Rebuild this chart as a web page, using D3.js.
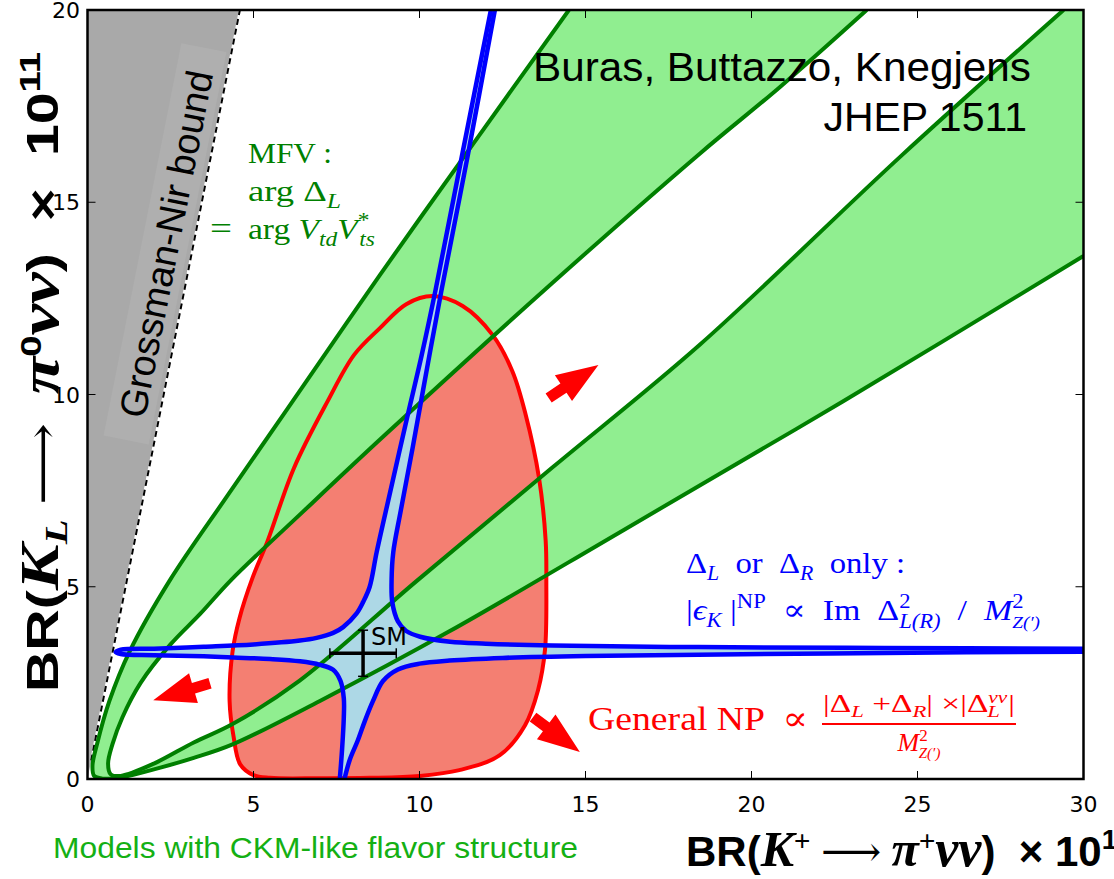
<!DOCTYPE html>
<html><head><meta charset="utf-8">
<script src="https://cdn.jsdelivr.net/npm/d3@7"></script>
<style>
body{margin:0;background:#fff}
svg{display:block}
text{white-space:pre}
</style>
</head><body>
<svg id="chart" width="1114" height="879"></svg>
<script>
// ---- axes ----
const xDomain = [0, 30];
const yDomain = [0, 20];
const xTicks = [0, 5, 10, 15, 20, 25, 30];
const yTicks = [0, 5, 10, 15, 20];

// ---- Grossman–Nir bound: BR(K_L) <= 4.36 BR(K+) ----
const gnBound = [[0, 0], [4.59, 20]];
const gnDash = [[0.11, 0.48], [4.59, 20]];

// ---- MFV band: outer boundary (steep arm -> origin -> shallow arm) ----
const mfvOuter = [
  [14.5, 20], [11.6, 16.5], [8.8, 13.1], [6.0, 9.6], [4.2, 7.35], [2.46, 5.14],
  [1.27, 3.32], [0.66, 2.03], [0.3, 0.95], [0.15, 0.35], [0.2, 0.08], [0.45, 0.01],
  [1.0, 0.04], [2.0, 0.25], [3.2, 0.55], [4.37, 0.9], [7.0, 2.03], [10.9, 3.84],
  [16, 6.4], [22.75, 9.82], [30, 13.6]
];
// ---- MFV band: inner boundary ----
const mfvInner = [
  [23.47, 20], [20.86, 18.0], [18.45, 16.27], [14.0, 12.9], [8.9, 8.9], [6.5, 6.96],
  [4.33, 5.18], [3.4, 4.3], [2.5, 3.5], [1.6, 2.5], [1.05, 1.6], [0.75, 0.9],
  [0.62, 0.4], [0.7, 0.12], [1.0, 0.08], [2.0, 0.4], [3.2, 0.95], [4.37, 1.43],
  [6.38, 2.55], [9.9, 5.14], [14.0, 8.1], [18.45, 11.3], [24.5, 16.2], [29.4, 20]
];

// ---- General NP region (closed) ----
const npRegion = [
  [10.4, 12.56], [11.3, 12.3], [12.2, 11.55], [12.8, 10.6], [13.2, 9.47], [13.6, 7.83],
  [13.8, 6.2], [13.82, 5.17], [13.78, 3.36], [13.57, 2.31], [13.18, 1.4], [12.42, 0.62],
  [11.2, 0.23], [10.0, 0.08], [8.5, 0.03], [7.0, 0.02], [5.5, 0.03], [5.0, 0.1],
  [4.6, 0.38], [4.4, 1.1], [4.28, 2.03], [4.37, 3.32], [4.58, 4.19], [4.97, 5.23],
  [5.42, 6.18], [6.22, 8.09], [7.23, 9.82], [8.03, 11.03], [8.8, 11.72], [9.6, 12.35]
];

// ---- Delta_L or Delta_R only (eps_K constrained) region: four arms ----
const epsUpperLeft = [
  [12.15, 20], [11.3, 16.3], [10.48, 12.7], [10.06, 11.0], [9.6, 9.3], [9.1, 7.4],
  [8.71, 5.9], [8.5, 5.0], [8.3, 4.6], [8.1, 4.3], [7.7, 3.95], [7.4, 3.8],
  [6.9, 3.67], [6.4, 3.6], [5.0, 3.5], [3.5, 3.44], [2.0, 3.39], [1.0, 3.36], [0.85, 3.3]
];
const epsLowerLeft = [
  [0.85, 3.3], [1.0, 3.25], [2.0, 3.22], [3.5, 3.19], [4.4, 3.16], [5.5, 3.12],
  [6.4, 3.06], [7.0, 2.97], [7.4, 2.84], [7.62, 2.55], [7.72, 2.1], [7.72, 1.6],
  [7.67, 0.8], [7.6, 0]
];
const epsLowerRight = [
  [7.74, 0], [7.9, 0.5], [8.14, 1.0], [8.35, 1.5], [8.6, 2.03], [8.9, 2.55],
  [9.35, 2.85], [10.0, 3.0], [10.9, 3.08], [12.5, 3.15], [15, 3.2], [18.4, 3.23],
  [24, 3.28], [30, 3.31]
];
const epsUpperRight = [
  [30, 3.39], [24, 3.41], [18.4, 3.43], [14, 3.47], [12, 3.52], [10.92, 3.57],
  [10.02, 3.7], [9.6, 3.85], [9.35, 4.1], [9.18, 4.6], [9.16, 5.2], [9.21, 5.9],
  [9.44, 7.0], [9.79, 8.6], [10.21, 10.6], [10.66, 12.7], [11.45, 16.2], [12.27, 20]
];

// ---- Standard Model point with uncertainties ----
const smPoint = [8.3, 3.27];
const smErr = [1.0, 0.6];

// ---- direction arrows (tail -> tip) ----
const arrowTails = [[13.89, 9.91], [3.69, 2.49], [13.42, 1.61]];
const arrowTips = [[15.39, 10.77], [1.98, 2.05], [14.83, 0.70]];

// ---------------------------------------------------------------
const svg = d3.select("#chart");
const x = d3.scaleLinear().domain(xDomain).range([87.5, 1083.5]);
const y = d3.scaleLinear().domain(yDomain).range([779, 10]);
const X0 = x(xDomain[0]), X1 = x(xDomain[1]), Y0 = y(yDomain[0]), Y1 = y(yDomain[1]);

const SERIF = "'Liberation Serif','DejaVu Serif',serif";
const SANS = "'Liberation Sans',Arial,sans-serif";
const DSANS = "'DejaVu Sans',sans-serif";

svg.append("defs").append("clipPath").attr("id", "plotclip")
  .append("rect").attr("x", X0).attr("y", Y1).attr("width", X1 - X0).attr("height", Y0 - Y1);

const plot = svg.append("g").attr("clip-path", "url(#plotclip)");

const open = d3.line().x(d => x(d[0])).y(d => y(d[1])).curve(d3.curveCatmullRom.alpha(0.5));
const closed = d3.line().x(d => x(d[0])).y(d => y(d[1])).curve(d3.curveCatmullRomClosed.alpha(0.5));
const straight = d3.line().x(d => x(d[0])).y(d => y(d[1]));
const cont = pts => open(pts).replace(/^M/, "L");

// Grossman–Nir excluded region
plot.append("path")
  .attr("d", straight([gnBound[0], gnBound[1], [0, yDomain[1]], [0, 0]]) + "Z")
  .attr("fill", "#a9a9a9");

// label with its background patch, aligned to the bound
{
  const p0 = [x(gnBound[0][0]), y(gnBound[0][1])], p1 = [x(gnBound[1][0]), y(gnBound[1][1])];
  const ang = Math.atan2(p1[1] - p0[1], p1[0] - p0[0]) * 180 / Math.PI;
  const g = plot.append("g").attr("transform", `translate(166,244) rotate(${ang})`);
  g.append("rect").attr("x", -200).attr("y", -24).attr("width", 400).attr("height", 46)
    .attr("fill", "#afafaf");
  g.append("text").attr("text-anchor", "middle").attr("dy", "0.35em")
    .attr("font-family", SANS).attr("font-size", 38).attr("fill", "#000")
    .text("Grossman-Nir bound");
}

// General NP region fill
plot.append("path").attr("d", closed(npRegion)).attr("fill", "#f47f72");

// MFV band fill (between outer and inner boundaries)
const outerD = open(mfvOuter) + `L${X1},${Y1}Z`;
const innerD = open(mfvInner) + "Z";
plot.append("path").attr("d", outerD + innerD).attr("fill", "#90ee90").attr("fill-rule", "evenodd");

// eps_K region fill
const epsD = open(epsUpperLeft.concat(epsLowerLeft.slice(1))) + cont(epsLowerRight) + cont(epsUpperRight) + "Z";
plot.append("path").attr("d", epsD).attr("fill", "#add8e6");

// Grossman–Nir bound line
plot.append("path").attr("d", straight(gnDash)).attr("stroke", "#fff").attr("stroke-width", 2).attr("fill", "none");
plot.append("path").attr("d", straight(gnDash)).attr("stroke", "#000").attr("stroke-width", 2)
  .attr("stroke-dasharray", "6,4").attr("fill", "none");

// outlines
plot.append("path").attr("d", closed(npRegion)).attr("fill", "none").attr("stroke", "#ff0000").attr("stroke-width", 4);
[mfvOuter, mfvInner].forEach(c => plot.append("path").attr("d", open(c)).attr("fill", "none")
  .attr("stroke", "#007f00").attr("stroke-width", 4));
[epsUpperLeft.concat(epsLowerLeft.slice(1)), epsLowerRight, epsUpperRight].forEach(c =>
  plot.append("path").attr("d", open(c)).attr("fill", "none").attr("stroke", "#0000ff")
    .attr("stroke-width", 4.5).attr("stroke-linejoin", "round"));

// SM point with error bars
{
  const cx = x(smPoint[0]), cy = y(smPoint[1]);
  const xl = x(smPoint[0] - smErr[0]), xr = x(smPoint[0] + smErr[0]);
  const yt = y(smPoint[1] + smErr[1]), yb = y(smPoint[1] - smErr[1]);
  const g = plot.append("g").attr("stroke", "#000");
  g.append("line").attr("x1", xl).attr("x2", xr).attr("y1", cy).attr("y2", cy).attr("stroke-width", 3.5);
  g.append("line").attr("x1", cx).attr("x2", cx).attr("y1", yt).attr("y2", yb).attr("stroke-width", 3.5);
  g.append("line").attr("x1", xl).attr("x2", xl).attr("y1", cy - 5).attr("y2", cy + 5).attr("stroke-width", 1.5);
  g.append("line").attr("x1", xr).attr("x2", xr).attr("y1", cy - 5).attr("y2", cy + 5).attr("stroke-width", 1.5);
  g.append("line").attr("x1", cx - 5).attr("x2", cx + 5).attr("y1", yt).attr("y2", yt).attr("stroke-width", 1.5);
  g.append("line").attr("x1", cx - 5).attr("x2", cx + 5).attr("y1", yb).attr("y2", yb).attr("stroke-width", 1.5);
  plot.append("text").attr("x", cx + 8).attr("y", cy - 8).attr("font-family", DSANS)
    .attr("font-size", 24).attr("fill", "#000").text("SM");
}

// arrows
arrowTails.forEach((t, i) => {
  const a = [x(t[0]), y(t[1])], b = [x(arrowTips[i][0]), y(arrowTips[i][1])];
  const L = Math.hypot(b[0] - a[0], b[1] - a[1]);
  const u = [(b[0] - a[0]) / L, (b[1] - a[1]) / L], n = [-u[1], u[0]];
  const hl = 42, hw = 31, sw = 11;
  const base = [b[0] - u[0] * hl, b[1] - u[1] * hl];
  const P = (p, k) => [p[0] + n[0] * k, p[1] + n[1] * k];
  const pts = [P(a, sw / 2), P(base, sw / 2), P(base, hw / 2), b, P(base, -hw / 2), P(base, -sw / 2), P(a, -sw / 2)];
  plot.append("polygon").attr("points", pts.map(p => p.join(",")).join(" ")).attr("fill", "#ff0000");
});

// ---- frame, ticks, tick labels ----
const ax = svg.append("g");
ax.append("rect").attr("x", X0).attr("y", Y1).attr("width", X1 - X0).attr("height", Y0 - Y1)
  .attr("fill", "none").attr("stroke", "#000").attr("stroke-width", 2.5);
xTicks.forEach(v => {
  ax.append("line").attr("x1", x(v)).attr("x2", x(v)).attr("y1", Y0).attr("y2", Y0 - 8).attr("stroke", "#000");
  ax.append("line").attr("x1", x(v)).attr("x2", x(v)).attr("y1", Y1).attr("y2", Y1 + 8).attr("stroke", "#000");
  ax.append("text").attr("x", x(v)).attr("y", 812).attr("text-anchor", "middle")
    .attr("font-family", DSANS).attr("font-size", 22).text(v);
});
yTicks.forEach(v => {
  ax.append("line").attr("x1", X0).attr("x2", X0 + 8).attr("y1", y(v)).attr("y2", y(v)).attr("stroke", "#000");
  ax.append("line").attr("x1", X1).attr("x2", X1 - 8).attr("y1", y(v)).attr("y2", y(v)).attr("stroke", "#000");
  ax.append("text").attr("x", 80).attr("y", y(v) + 8).attr("text-anchor", "end")
    .attr("font-family", DSANS).attr("font-size", 22).text(v);
});

// ---- rich text helper: parts with sub/superscripts ----
function rich(parent, px, py, parts, o) {
  const t = parent.append("text").attr("x", px).attr("y", py)
    .attr("font-family", o.family).attr("font-size", o.size).attr("fill", o.fill)
    .attr("text-anchor", o.anchor || "start");
  if (o.weight) t.attr("font-weight", o.weight);
  if (o.transform) t.attr("transform", o.transform);
  if (o.len) t.attr("textLength", o.len).attr("lengthAdjust", "spacingAndGlyphs");
  let cur = 0;
  parts.forEach(p => {
    const s = t.append("tspan").text(p.t);
    const sh = p.sh || 0;
    if (sh !== cur) s.attr("dy", cur - sh);
    cur = sh;
    if (p.i) s.attr("font-style", "italic");
    if (p.s) s.attr("font-size", p.s);
    if (p.f) s.attr("font-family", p.f);
    if (p.w) s.attr("font-weight", p.w);
    if (p.dx) s.attr("dx", p.dx);
  });
  return t;
}

const G = "#008000";
rich(svg, 248, 163, [{ t: "MFV :" }], { family: SERIF, size: 30, fill: G, len: 84 });
rich(svg, 248, 201, [{ t: "arg Δ" }, { t: "L", i: 1, s: 21, sh: -7 }], { family: SERIF, size: 30, fill: G, len: 93 });
rich(svg, 210, 239, [{ t: "=" }], { family: SERIF, size: 32, fill: G, len: 22 });
rich(svg, 248, 239, [{ t: "arg " }, { t: "V", i: 1 }, { t: "td", i: 1, s: 21, sh: -7 }, { t: "V", i: 1 },
  { t: "*", s: 21, sh: 12 }, { t: "ts", i: 1, s: 21, sh: -7, dx: -9 }], { family: SERIF, size: 30, fill: G, len: 127 });

const B = "#0000ff";
rich(svg, 686, 573, [{ t: "Δ" }, { t: "L", i: 1, s: 20, sh: -7 }, { t: "  or  Δ" }, { t: "R", i: 1, s: 20, sh: -7 },
  { t: "  only :" }], { family: SERIF, size: 30, fill: B, len: 219 });
rich(svg, 686, 620, [{ t: "|" }, { t: "ϵ", i: 1 }, { t: "K", i: 1, s: 20, sh: -7 }, { t: " |" },
  { t: "NP", s: 20, sh: 12 }, { t: "  ∝  Im  Δ" }, { t: "2", s: 20, sh: 12 }, { t: "L(R)", i: 1, s: 20, sh: -8, dx: -10 },
  { t: "  /  " }, { t: "M", i: 1 }, { t: "2", s: 20, sh: 12 }, { t: "Z(′)", i: 1, s: 17, sh: -8, dx: -10 }],
  { family: SERIF, size: 30, fill: B, len: 354 });

const R = "#ff0000";
rich(svg, 588, 730, [{ t: "General NP  ∝" }], { family: SERIF, size: 34, fill: R, len: 220 });
rich(svg, 919, 712, [{ t: "|Δ" }, { t: "L", i: 1, s: 17, sh: -5 }, { t: " +Δ" }, { t: "R", i: 1, s: 17, sh: -5 },
  { t: "| ×|Δ" }, { t: "νν", i: 1, s: 16, sh: 9 }, { t: "L", i: 1, s: 17, sh: -5, dx: -15 }, { t: " |" }],
  { family: SERIF, size: 25, fill: R, anchor: "middle", len: 192 });
svg.append("line").attr("x1", 822).attr("x2", 1016).attr("y1", 724).attr("y2", 724).attr("stroke", R).attr("stroke-width", 2);
rich(svg, 919, 751, [{ t: "M", i: 1 }, { t: "2", s: 17, sh: 10 }, { t: "Z(′)", i: 1, s: 15, sh: -7, dx: -9 }],
  { family: SERIF, size: 26, fill: R, anchor: "middle" });

// corner credit
svg.append("text").attr("x", 1031).attr("y", 81).attr("text-anchor", "end").attr("font-family", SANS)
  .attr("font-size", 41).attr("textLength", 498).attr("lengthAdjust", "spacingAndGlyphs")
  .text("Buras, Buttazzo, Knegjens");
svg.append("text").attr("x", 1027).attr("y", 131).attr("text-anchor", "end").attr("font-family", SANS)
  .attr("font-size", 41).text("JHEP 1511");

// axis titles
rich(svg, 686, 866, [{ t: "BR(" }, { t: "K", i: 1, f: SERIF, s: 50 }, { t: "+", s: 28, sh: 16, w: "normal" },
  { t: " ⟶ ", w: "normal", f: SERIF }, { t: "π", i: 1, f: SERIF, s: 50 }, { t: "+", s: 28, sh: 16, w: "normal" },
  { t: "νν", i: 1, f: SERIF, s: 52 }, { t: ")  × 10" }, { t: "11", s: 28, sh: 17 }],
  { family: SANS, size: 42, fill: "#000", weight: "bold" });
rich(svg, 0, 0, [{ t: "BR(" }, { t: "K", i: 1, f: SERIF, s: 54 }, { t: "L", i: 1, f: SERIF, s: 32, sh: -9 },
  { t: " ⟶  ", w: "normal", f: SERIF }, { t: "π", i: 1, f: SERIF, s: 54 }, { t: "0", s: 30, sh: 17 },
  { t: "νν", i: 1, f: SERIF, s: 56 }, { t: ")  ×  10" }, { t: "11", s: 30, sh: 18 }],
  { family: SANS, size: 45, fill: "#000", weight: "bold", transform: "translate(58,692) rotate(-90)", len: 640 });

svg.append("text").attr("x", 53).attr("y", 858).attr("font-family", SANS).attr("font-size", 29)
  .attr("textLength", 525).attr("lengthAdjust", "spacingAndGlyphs")
  .attr("fill", "#14b014").text("Models with CKM-like flavor structure");
</script>
</body></html>
